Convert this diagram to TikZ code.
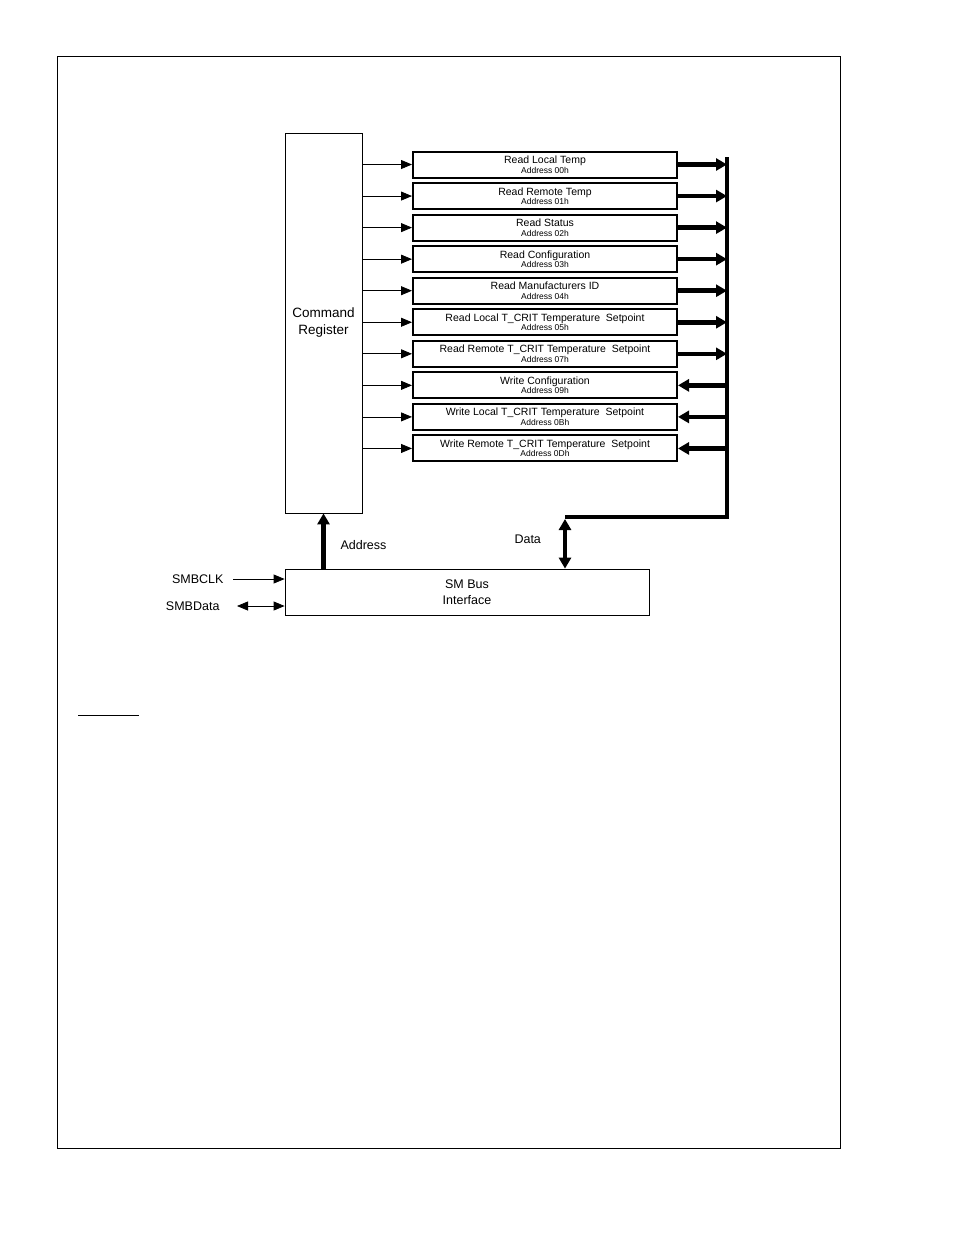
\documentclass[tikz,border=0pt]{standalone}
\usepackage{fontspec}
\setmainfont{Liberation Sans}
\usetikzlibrary{arrows.meta}
\begin{document}
\begin{tikzpicture}[x=1pt,y=-1pt,
  reg/.style={draw,line width=2pt,minimum width=264pt,minimum height=26pt,inner sep=0pt,align=center,font=\fontsize{10.5}{10.5}\selectfont},
  thin/.style={line width=0.8pt,-{Triangle[length=11pt,width=9pt]}},
  thick/.style={line width=4.5pt,-{Triangle[length=11pt,width=12pt]}},
  box/.style={draw,line width=0.8pt,inner sep=0pt}]
\useasboundingbox (0,0) rectangle (954,1235);
\draw[line width=0.8pt] (57,56) rectangle (840,1148);
\node[box,minimum width=77pt,minimum height=380pt,align=center,font=\fontsize{13.5}{17}\selectfont] (cmd) at (323.5,323) {Command\\Register};
\node[box,minimum width=364pt,minimum height=46pt,align=center,font=\fontsize{12.5}{16}\selectfont] (smb) at (467,592) {SM Bus\\Interface};
\foreach \i/\t/\a in {0/Read Local Temp/00h,1/Read Remote Temp/01h,2/Read Status/02h,3/Read Configuration/03h,4/Read Manufacturers ID/04h,5/Read Local T\_CRIT Temperature\ \ Setpoint/05h,6/Read Remote T\_CRIT Temperature\ \ Setpoint/07h,7/Write Configuration/09h,8/Write Local T\_CRIT Temperature\ \ Setpoint/0Bh,9/Write Remote T\_CRIT Temperature\ \ Setpoint/0Dh}{
  \node[reg] (r\i) at (545,164.5+31.55*\i) {\t\\[-1pt]{\fontsize{8.5}{8.5}\selectfont Address \a}};
  \draw[thin] (cmd.east |- r\i.west) -- (r\i.west);
  \coordinate (b\i) at (727,164.5+31.55*\i);
}
\foreach \i in {0,...,6}{\draw[thick] (r\i.east) -- (b\i);}
\foreach \i in {7,8,9}{\draw[thick] (b\i) -- (r\i.east);}
\coordinate (btop) at (727,157);
\coordinate (bbot) at (727,517);
\coordinate (dtop) at (565,517);
\draw[line width=4.5pt,line join=miter] (btop) -- (bbot) -- (dtop);
\draw[line width=4.5pt,{Triangle[length=11pt,width=12pt]}-{Triangle[length=11pt,width=12pt]}] ([yshift=-2pt]dtop) -- (dtop |- smb.north);
\draw[thick] (cmd.south |- smb.north) -- (cmd.south);
\node[font=\fontsize{12.5}{12.5}\selectfont,anchor=west] (addr) at (337,545) {Address};
\node[font=\fontsize{12.5}{12.5}\selectfont,anchor=west] (data) at (511,539) {Data};
\node[font=\fontsize{12.5}{12.5}\selectfont,anchor=east] (clk) at (227,579) {SMBCLK};
\node[font=\fontsize{12.5}{12.5}\selectfont,anchor=east] (sda) at (223,606) {SMBData};
\draw[thin] (233,579) -- (smb.west |- clk);
\draw[line width=0.8pt,{Triangle[length=11pt,width=9pt]}-{Triangle[length=11pt,width=9pt]}] (237,606) -- (smb.west |- sda);
\draw[line width=0.8pt] (78,715) -- (139,715);
\end{tikzpicture}
\end{document}
